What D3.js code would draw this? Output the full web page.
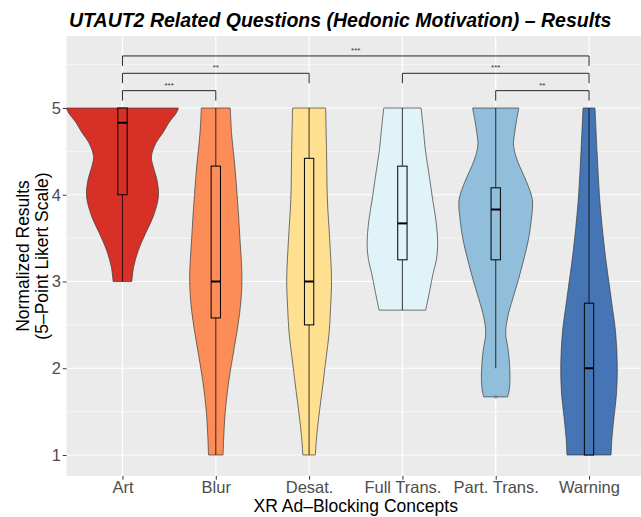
<!DOCTYPE html>
<html>
<head>
<meta charset="utf-8">
<script src="https://cdn.jsdelivr.net/npm/d3@7"></script>
<style>
  body { margin: 0; background: #fff; }
  svg { display: block; font-family: "Liberation Sans", Arial, sans-serif; }
</style>
</head>
<body>
<svg id="chart" width="641" height="517"></svg>
<script>
// categories and fills (RdYlBu)
var cats = ["Art", "Blur", "Desat.", "Full Trans.", "Part. Trans.", "Warning"];
var fills = ["#D73027", "#FC8D59", "#FEE090", "#E0F3F8", "#91BFDB", "#4575B4"];

// boxplot stats per concept
var whiskLo = [3.00, 1.00, 1.00, 2.67, 2.00, 1.00];
var q1 = [4.00, 2.58, 2.50, 3.25, 3.25, 1.00];
var med = [4.83, 3.00, 3.00, 3.67, 3.83, 2.00];
var q3 = [5.00, 4.33, 4.42, 4.33, 4.08, 2.75];
var whiskHi = [5.00, 5.00, 5.00, 5.00, 5.00, 5.00];
var outliers = [[4, 1.67]]; // [category index, value]

// violin half-widths (value, width as share of category step)
var violinArt = [[5.0, .60], [4.94, .575], [4.85, .51], [4.71, .43], [4.6, .36], [4.44, .31], [4.32, .33],
                 [4.17, .37], [3.98, .385], [3.75, .33], [3.55, .245], [3.36, .17], [3.17, .12], [3.0, .10]];
var violinBlur = [[5.0, .155], [4.7, .17], [4.32, .205], [3.9, .235], [3.56, .255], [3.0, .28], [2.63, .255],
                  [2.25, .20], [1.86, .14], [1.48, .10], [1.2, .085], [1.0, .078]];
var violinDesat = [[5.0, .177], [4.5, .187], [3.94, .196], [3.5, .22], [3.02, .24], [2.7, .23], [2.4, .214],
                   [2.1, .18], [1.83, .15], [1.44, .104], [1.2, .08], [1.0, .067]];
var violinFull = [[5.0, .20], [4.75, .225], [4.52, .246], [4.2, .29], [3.94, .325], [3.7, .36], [3.44, .378],
                  [3.25, .364], [3.1, .33], [2.9, .294], [2.67, .25]];
var violinPart = [[5.0, .248], [4.87, .225], [4.69, .20], [4.59, .19], [4.45, .214], [4.32, .26], [4.15, .33],
                  [3.94, .393], [3.7, .38], [3.48, .35], [3.25, .30], [3.02, .243], [2.8, .182], [2.59, .128],
                  [2.4, .107], [2.25, .128], [2.13, .142], [1.9, .153], [1.75, .145], [1.67, .128]];
var violinWarn = [[5.0, .064], [4.5, .086], [3.94, .115], [3.36, .168], [2.79, .239], [2.4, .286], [2.02, .303],
                  [1.7, .294], [1.44, .268], [1.2, .246], [1.0, .236]];
var violins = [violinArt, violinBlur, violinDesat, violinFull, violinPart, violinWarn];

// significance brackets
var sigFrom = ["Art", "Art", "Art", "Full Trans.", "Part. Trans."];
var sigTo = ["Blur", "Desat.", "Warning", "Warning", "Warning"];
var sigY = [5.2, 5.4, 5.6, 5.4, 5.2];
var sigText = ["***", "**", "***", "***", "**"];

var yTicks = [1, 2, 3, 4, 5];
var yMinor = [1.5, 2.5, 3.5, 4.5, 5.5];

var svg = d3.select("#chart");
var panel = {left: 66.5, top: 36, right: 645, bottom: 476};

var x = d3.scalePoint()
    .domain(cats)
    .range([panel.left, panel.right])
    .padding(0.6);
var step = x.step();

var y = d3.scaleLinear()
    .domain([0.758, 5.83])
    .range([panel.bottom, panel.top]);

var w = d3.scaleLinear().domain([0, 1]).range([0, step]);

// panel background + grid
svg.append("rect")
    .attr("x", panel.left).attr("y", panel.top)
    .attr("width", panel.right - panel.left).attr("height", panel.bottom - panel.top)
    .attr("fill", "#EBEBEB");

svg.selectAll(".minor").data(yMinor).enter().append("line")
    .attr("x1", panel.left).attr("x2", panel.right)
    .attr("y1", function(d) { return y(d); }).attr("y2", function(d) { return y(d); })
    .attr("stroke", "#fff").attr("stroke-width", 0.6);

svg.selectAll(".majorY").data(yTicks).enter().append("line")
    .attr("x1", panel.left).attr("x2", panel.right)
    .attr("y1", function(d) { return y(d); }).attr("y2", function(d) { return y(d); })
    .attr("stroke", "#fff").attr("stroke-width", 1.2);

svg.selectAll(".majorX").data(cats).enter().append("line")
    .attr("x1", function(d) { return x(d); }).attr("x2", function(d) { return x(d); })
    .attr("y1", panel.top).attr("y2", panel.bottom)
    .attr("stroke", "#fff").attr("stroke-width", 1.2);

// violins
var area = d3.area()
    .y(function(d) { return y(d[0]); })
    .curve(d3.curveCatmullRom);

cats.forEach(function(c, i) {
    var cx = x(c);
    svg.append("path")
        .datum(violins[i])
        .attr("d", area
            .x0(function(d) { return cx - w(d[1]); })
            .x1(function(d) { return cx + w(d[1]); }))
        .attr("fill", fills[i])
        .attr("stroke", "#3a3a3a")
        .attr("stroke-width", 0.7);
});

// outliers
svg.selectAll(".outlier").data(outliers).enter().append("circle")
    .attr("cx", function(d) { return x(cats[d[0]]); })
    .attr("cy", function(d) { return y(d[1]); })
    .attr("r", 2)
    .attr("fill", "#555").attr("opacity", 0.35);

// boxplots
var bw = w(0.05);
cats.forEach(function(c, i) {
    var cx = x(c);
    var g = svg.append("g");
    g.append("line")
        .attr("x1", cx).attr("x2", cx)
        .attr("y1", y(whiskLo[i])).attr("y2", y(whiskHi[i]))
        .attr("stroke", "#000").attr("stroke-opacity", 0.7).attr("stroke-width", 1.1);
    g.append("rect")
        .attr("x", cx - bw).attr("width", 2 * bw)
        .attr("y", y(q3[i])).attr("height", y(q1[i]) - y(q3[i]))
        .attr("fill", fills[i])
        .attr("stroke", "#000").attr("stroke-width", 1);
    g.append("line")
        .attr("x1", cx - bw).attr("x2", cx + bw)
        .attr("y1", y(med[i])).attr("y2", y(med[i]))
        .attr("stroke", "#000").attr("stroke-width", 2);
});

// significance brackets
var tip = 0.115;
sigFrom.forEach(function(a, i) {
    var x1 = x(a), x2 = x(sigTo[i]), yy = y(sigY[i]);
    svg.append("path")
        .attr("d", "M" + x1 + "," + y(sigY[i] - tip) + "V" + yy + "H" + x2 + "V" + y(sigY[i] - tip))
        .attr("fill", "none")
        .attr("stroke", "#111").attr("stroke-width", 0.9);
    svg.append("text")
        .attr("x", (x1 + x2) / 2)
        .attr("y", yy - 3)
        .attr("text-anchor", "middle")
        .attr("font-size", 8)
        .attr("fill", "#333")
        .text(sigText[i]);
});

// axes
var yAxis = svg.append("g")
    .attr("transform", "translate(" + panel.left + ",0)")
    .call(d3.axisLeft(y).tickValues(yTicks).tickSize(3.7).tickPadding(2).tickFormat(d3.format("d")));
var xAxis = svg.append("g")
    .attr("transform", "translate(0," + panel.bottom + ")")
    .call(d3.axisBottom(x).tickSize(3.7).tickPadding(2));
[yAxis, xAxis].forEach(function(a) {
    a.select(".domain").remove();
    a.selectAll(".tick line").attr("stroke", "#333").attr("stroke-width", 1);
    a.selectAll(".tick text")
        .attr("fill", "#4D4D4D")
        .attr("font-size", 16.5)
        .attr("font-family", "Liberation Sans, Arial, sans-serif");
});

// titles
svg.append("text")
    .attr("x", 69).attr("y", 27)
    .attr("font-size", 19.5)
    .attr("font-weight", "bold")
    .attr("font-style", "italic")
    .attr("fill", "#000")
    .text("UTAUT2 Related Questions (Hedonic Motivation) – Results");

svg.append("text")
    .attr("x", (panel.left + panel.right) / 2).attr("y", 512)
    .attr("text-anchor", "middle")
    .attr("font-size", 17.5)
    .attr("fill", "#000")
    .text("XR Ad–Blocking Concepts");

var yTitle = svg.append("text")
    .attr("transform", "translate(0," + ((panel.top + panel.bottom) / 2) + ") rotate(-90)")
    .attr("text-anchor", "middle")
    .attr("font-size", 17.5)
    .attr("fill", "#000");
yTitle.append("tspan").attr("x", 0).attr("y", 29).text("Normalized Results");
yTitle.append("tspan").attr("x", 0).attr("y", 48).text("(5–Point Likert Scale)");
</script>
</body>
</html>
